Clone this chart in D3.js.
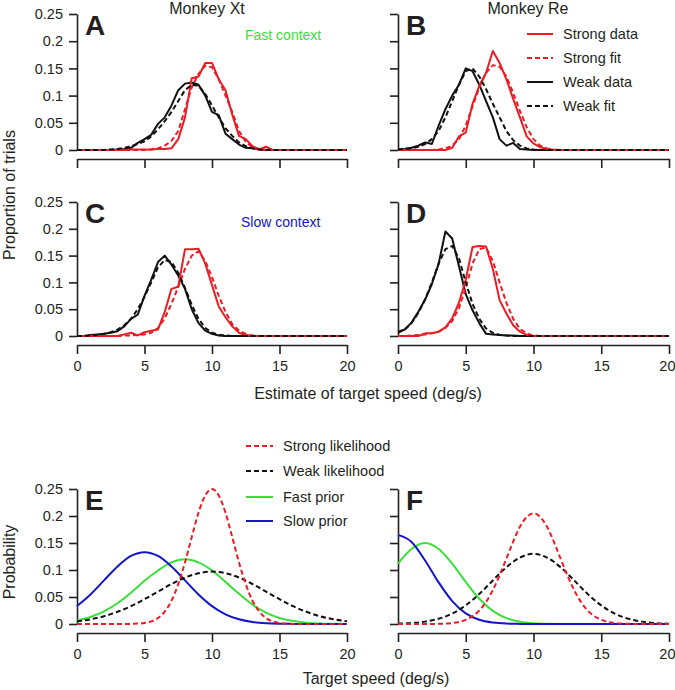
<!DOCTYPE html>
<html><head><meta charset="utf-8">
<script src="https://cdn.jsdelivr.net/npm/d3@7"></script>
<style>
body{margin:0;background:#fff}
svg{display:block}
text{font-family:"Liberation Sans",Arial,Helvetica,sans-serif;fill:#231f20}
</style>
</head><body>
<svg id="chart" width="675" height="690"></svg>
<script>
// ---------- DATA ----------
// estimate grid (deg/s), 0.5 deg/s bins
const halfSpeeds = [0,0.5,1,1.5,2,2.5,3,3.5,4,4.5,5,5.5,6,6.5,7,7.5,8,8.5,9,9.5,10,10.5,11,11.5,12,12.5,13,13.5,14,14.5,15,15.5,16,16.5,17,17.5,18,18.5,19,19.5,20];
const intSpeeds = [0,1,2,3,4,5,6,7,8,9,10,11,12,13,14,15,16,17,18,19,20];

// Panel A (Monkey Xt, fast context)
const strongDataA = [0,0,0,0,0,0,0,0, 0.001,0.001,0.001,0.001, 0.002,0.002, 0.003,0.02,0.06,0.132,0.135,0.16,0.16,0.13,0.11,0.065,0.026,0.02,0.007,0.001,0.006, 0,0,0,0,0,0,0,0,0,0,0,0];
const strongFitA  = [0,0,0,0,0,0,0,0,0,0,0, 0.001,0.003,0.008,0.017,0.035,0.075,0.115,0.14,0.155,0.152,0.13,0.1,0.07,0.035,0.015,0.005,0.002, 0,0,0,0,0,0,0,0,0,0,0,0,0];
const weakDataA   = [0,0,0,0,0,0, 0.001,0.002,0.004,0.013,0.02,0.028,0.048,0.06,0.082,0.11,0.122,0.124,0.12,0.1,0.07,0.064,0.03,0.02,0.01,0.004,0.003,0.001, 0,0,0,0,0,0,0,0,0,0,0,0,0];
const weakFitA    = [0,0,0,0,0, 0.001,0.002,0.004,0.007,0.011,0.016,0.025,0.038,0.053,0.07,0.09,0.11,0.12,0.118,0.103,0.082,0.06,0.04,0.026,0.014,0.007,0.003,0.001, 0,0,0,0,0,0,0,0,0,0,0,0,0];

// Panel B (Monkey Re, fast context)
const strongDataB = [0,0,0,0,0,0,0,0, 0.004,0.025,0.032,0.085,0.118,0.142,0.182,0.16,0.13,0.094,0.06,0.025,0.012,0.005,0.002, 0,0,0,0,0,0,0,0,0,0,0,0,0,0,0,0,0,0];
const strongFitB  = [0,0,0,0,0,0, 0.001,0.003,0.008,0.02,0.045,0.08,0.115,0.142,0.156,0.153,0.135,0.105,0.072,0.042,0.02,0.008,0.003,0.001, 0,0,0,0,0,0,0,0,0,0,0,0,0,0,0,0,0];
const weakDataB   = [0.001,0.002,0.004,0.008,0.014,0.011,0.045,0.075,0.1,0.12,0.15,0.145,0.12,0.09,0.06,0.02,0.008,0.013,0.002,0.001, 0,0,0,0,0,0,0,0,0,0,0,0,0,0,0,0,0,0,0,0,0];
const weakFitB    = [0.001,0.002,0.003,0.006,0.011,0.02,0.035,0.06,0.09,0.12,0.145,0.15,0.135,0.112,0.085,0.06,0.035,0.018,0.008,0.003,0.001, 0,0,0,0,0,0,0,0,0,0,0,0,0,0,0,0,0,0,0,0];

// Panel C (Monkey Xt, slow context)
const strongDataC = [0,0,0,0,0,0,0, 0.003,0.006,0.001,0.007,0.01,0.012,0.045,0.088,0.092,0.162,0.162,0.163,0.135,0.095,0.055,0.035,0.018,0.006,0.002, 0,0,0,0,0,0,0,0,0,0,0,0,0,0,0];
const strongFitC  = [0,0,0,0,0,0,0, 0.001,0.001,0.002,0.003,0.006,0.015,0.033,0.06,0.092,0.125,0.15,0.158,0.14,0.11,0.075,0.045,0.022,0.01,0.004,0.001, 0,0,0,0,0,0,0,0,0,0,0,0,0,0];
const weakDataC   = [0,0,0.002,0.003,0.004,0.006,0.009,0.018,0.032,0.04,0.075,0.105,0.138,0.15,0.133,0.113,0.088,0.05,0.024,0.01,0.004,0.001, 0,0,0,0,0,0,0,0,0,0,0,0,0,0,0,0,0,0,0];
const weakFitC    = [0,0,0.001,0.002,0.004,0.007,0.012,0.02,0.032,0.05,0.073,0.1,0.128,0.142,0.138,0.118,0.09,0.058,0.032,0.015,0.006,0.002,0.001, 0,0,0,0,0,0,0,0,0,0,0,0,0,0,0,0,0,0];

// Panel D (Monkey Re, slow context)
const strongDataD = [0,0,0,0, 0.005,0.005,0.008,0.016,0.033,0.062,0.105,0.166,0.168,0.167,0.125,0.067,0.042,0.02,0.008,0.002, 0,0,0,0,0,0,0,0,0,0,0,0,0,0,0,0,0,0,0,0,0];
const strongFitD  = [0,0, 0.001,0.002,0.003,0.005,0.008,0.015,0.028,0.052,0.09,0.135,0.162,0.165,0.14,0.1,0.062,0.032,0.013,0.005,0.001, 0,0,0,0,0,0,0,0,0,0,0,0,0,0,0,0,0,0,0,0];
const weakDataD   = [0.008,0.012,0.025,0.045,0.068,0.097,0.135,0.195,0.182,0.13,0.078,0.048,0.024,0.004,0.003,0.002,0.001,0.001, 0,0,0,0,0,0,0,0,0,0,0,0,0,0,0,0,0,0,0,0,0,0,0];
const weakFitD    = [0.006,0.012,0.024,0.043,0.068,0.1,0.135,0.162,0.168,0.145,0.1,0.06,0.032,0.014,0.006,0.002,0.001, 0,0,0,0,0,0,0,0,0,0,0,0,0,0,0,0,0,0,0,0,0,0,0,0];

// Panel E (Monkey Xt model components)
const strongLikE = [0,0,0,0,0,0,0,0, 0.0002,0.0007,0.0019,0.0048,0.011,0.023,0.043,0.074,0.114,0.161,0.206,0.238,0.25,0.238,0.206,0.161,0.114,0.074,0.043,0.023,0.011,0.0048,0.0019,0.0007,0.0002, 0,0,0,0,0,0,0,0];
const weakLikE   = [0.0049,0.0087,0.0144,0.0226,0.033,0.046,0.060,0.074,0.086,0.094,0.097,0.094,0.086,0.074,0.060,0.046,0.033,0.0226,0.0144,0.0087,0.0049];
const fastPriorE = [0.0065,0.013,0.0234,0.0385,0.058,0.080,0.099,0.114,0.12,0.114,0.099,0.078,0.056,0.036,0.021,0.011,0.0055,0.0025,0.001,0.0004,0.0002];
const slowPriorE = [0.0332,0.0547,0.0807,0.1065,0.126,0.133,0.126,0.1065,0.0807,0.0547,0.0332,0.018,0.0087,0.0038,0.0015,0.0005,0.0002,0,0,0,0];

// Panel F (Monkey Re model components)
const strongLikF = [0,0,0,0,0, 0.0001,0.0003,0.0008,0.0018,0.0038,0.0077,0.0143,0.025,0.0409,0.0628,0.09,0.121,0.1525,0.18,0.198,0.205,0.198,0.18,0.1525,0.121,0.09,0.0628,0.0409,0.025,0.0143,0.0077,0.0038,0.0018,0.0008,0.0003,0.0001, 0,0,0,0,0];
const weakLikF   = [0.0006,0.0018,0.0044,0.0097,0.0193,0.0345,0.0556,0.0807,0.105,0.123,0.13,0.123,0.105,0.0807,0.0556,0.0345,0.0193,0.0097,0.0044,0.0018,0.0006];
const fastPriorF = [0.112,0.139,0.15,0.139,0.112,0.0778,0.0467,0.0242,0.0108,0.0042,0.0014,0.0004,0.0001,0,0,0,0,0,0,0,0];
const slowPriorF = [0.165,0.152,0.1176,0.077,0.0425,0.0198,0.0078,0.0026,0.0007,0.0002,0,0,0,0,0,0,0,0,0,0,0];

const yTicks = [0,0.05,0.1,0.15,0.2,0.25];
const yTickLabels = ["0","0.05","0.1","0.15","0.2","0.25"];
const xTicks = [0,5,10,15,20];
const xTickLabels = ["0","5","10","15","20"];

const topLegendLabels = ["Strong data","Strong fit","Weak data","Weak fit"];
const bottomLegendLabels = ["Strong likelihood","Weak likelihood","Fast prior","Slow prior"];

// ---------- STYLE ----------
const RED = "#ec1c24", BLACK = "#111", GREEN = "#38e038", BLUE = "#1414c8";
const DASH = "5,3";
const FONT = '"Liberation Sans",Arial,Helvetica,sans-serif';

const svg = d3.select("#chart");
svg.append("rect").attr("width",675).attr("height",690).attr("fill","#fff");

const panels = [
  {letter:"A", x0:77, x1:347, y0:150, y1:14, axisY:159, yLabels:true, xLabels:false, curve:d3.curveLinear,
   series:[[halfSpeeds,weakDataA,BLACK,null],[halfSpeeds,strongDataA,RED,null],[halfSpeeds,strongFitA,RED,DASH],[halfSpeeds,weakFitA,BLACK,DASH]]},
  {letter:"B", x0:398, x1:669, y0:150, y1:14, axisY:159, yLabels:false, xLabels:false, curve:d3.curveLinear,
   series:[[halfSpeeds,weakDataB,BLACK,null],[halfSpeeds,strongDataB,RED,null],[halfSpeeds,strongFitB,RED,DASH],[halfSpeeds,weakFitB,BLACK,DASH]]},
  {letter:"C", x0:77, x1:347, y0:336, y1:202, axisY:345, yLabels:true, xLabels:true, curve:d3.curveLinear,
   series:[[halfSpeeds,weakDataC,BLACK,null],[halfSpeeds,strongDataC,RED,null],[halfSpeeds,strongFitC,RED,DASH],[halfSpeeds,weakFitC,BLACK,DASH]]},
  {letter:"D", x0:398, x1:669, y0:336, y1:202, axisY:345, yLabels:false, xLabels:true, curve:d3.curveLinear,
   series:[[halfSpeeds,weakDataD,BLACK,null],[halfSpeeds,strongDataD,RED,null],[halfSpeeds,strongFitD,RED,DASH],[halfSpeeds,weakFitD,BLACK,DASH]]},
  {letter:"E", x0:77, x1:347, y0:624, y1:489, axisY:633, yLabels:true, xLabels:true, curve:d3.curveMonotoneX,
   series:[[intSpeeds,fastPriorE,GREEN,null],[intSpeeds,slowPriorE,BLUE,null],[intSpeeds,weakLikE,BLACK,DASH],[halfSpeeds,strongLikE,RED,DASH]]},
  {letter:"F", x0:398, x1:669, y0:624, y1:489, axisY:633, yLabels:false, xLabels:true, curve:d3.curveMonotoneX,
   series:[[intSpeeds,fastPriorF,GREEN,null],[intSpeeds,slowPriorF,BLUE,null],[intSpeeds,weakLikF,BLACK,DASH],[halfSpeeds,strongLikF,RED,DASH]]}
];

panels.forEach(p => {
  const x = d3.scaleLinear().domain([0,20]).range([p.x0,p.x1]);
  const y = d3.scaleLinear().domain([0,0.25]).range([p.y0,p.y1]);
  const g = svg.append("g");

  // y axis
  const ya = d3.axisLeft(y).tickValues(yTicks).tickSize(8).tickSizeOuter(0).tickPadding(6)
    .tickFormat((d,i) => p.yLabels ? yTickLabels[i] : "");
  const yg = g.append("g").attr("transform",`translate(${p.x0},0)`).call(ya);
  yg.selectAll("path,line").attr("stroke","#231f20").attr("stroke-width",1.6);
  yg.selectAll("text").attr("font-family",FONT).attr("font-size",14.5).attr("fill","#231f20");

  // x axis (offset below)
  const xa = d3.axisBottom(x).tickValues(xTicks).tickSize(9).tickSizeOuter(0).tickPadding(7)
    .tickFormat((d,i) => p.xLabels ? xTickLabels[i] : "");
  const xg = g.append("g").attr("transform",`translate(0,${p.axisY})`).call(xa);
  xg.selectAll("path,line").attr("stroke","#231f20").attr("stroke-width",1.6);
  xg.selectAll("text").attr("font-family",FONT).attr("font-size",14.5).attr("fill","#231f20");
  // keep the last label of right-hand panels inside the picture
  if (p.x1 > 600) {
    xg.selectAll(".tick text").filter(d => d === 20)
      .attr("text-anchor","end").attr("dx", 6);
  }

  // curves
  const line = d3.line().x(d => x(d[0])).y(d => y(d[1])).curve(p.curve);
  p.series.forEach(([xs, vals, color, dash]) => {
    const pts = vals.map((v,i) => [xs[i], v]);
    g.append("path").datum(pts).attr("d", line)
      .attr("fill","none").attr("stroke",color).attr("stroke-width",2)
      .attr("stroke-linejoin","round")
      .attr("stroke-dasharray", dash);
  });

  // panel letter
  g.append("text").attr("x",p.x0+8).attr("y",p.y1+21).text(p.letter)
    .attr("font-size",28).attr("font-weight","bold").attr("fill","#231f20");
});

// titles
svg.append("text").attr("x",207).attr("y",14).attr("text-anchor","middle").attr("font-size",16).text("Monkey Xt");
svg.append("text").attr("x",528).attr("y",14).attr("text-anchor","middle").attr("font-size",16).text("Monkey Re");
svg.append("text").attr("x",245).attr("y",40).attr("font-size",14).style("fill",GREEN).text("Fast context");
svg.append("text").attr("x",241).attr("y",227).attr("font-size",14).style("fill",BLUE).text("Slow context");

// top legend (panel B)
const topLegendStyles = [[RED,null],[RED,DASH],[BLACK,null],[BLACK,DASH]];
const topRows = [34,58,82,106];
topLegendLabels.forEach((lab,i) => {
  svg.append("line").attr("x1",527).attr("x2",553).attr("y1",topRows[i]).attr("y2",topRows[i])
    .attr("stroke",topLegendStyles[i][0]).attr("stroke-width",2).attr("stroke-dasharray",topLegendStyles[i][1]);
  svg.append("text").attr("x",563).attr("y",topRows[i]+5).attr("font-size",14.5).text(lab);
});

// bottom legend (panel E)
const bottomLegendStyles = [[RED,DASH],[BLACK,DASH],[GREEN,null],[BLUE,null]];
const bottomRows = [446,471,497,521];
bottomLegendLabels.forEach((lab,i) => {
  svg.append("line").attr("x1",246).attr("x2",273).attr("y1",bottomRows[i]).attr("y2",bottomRows[i])
    .attr("stroke",bottomLegendStyles[i][0]).attr("stroke-width",2).attr("stroke-dasharray",bottomLegendStyles[i][1]);
  svg.append("text").attr("x",283).attr("y",bottomRows[i]+5).attr("font-size",14.5).text(lab);
});

// axis labels
svg.append("text").attr("transform","translate(15,195) rotate(-90)").attr("text-anchor","middle").attr("font-size",16).text("Proportion of trials");
svg.append("text").attr("transform","translate(15,562) rotate(-90)").attr("text-anchor","middle").attr("font-size",16).text("Probability");
svg.append("text").attr("x",368).attr("y",399).attr("text-anchor","middle").attr("font-size",16).text("Estimate of target speed (deg/s)");
svg.append("text").attr("x",376).attr("y",684).attr("text-anchor","middle").attr("font-size",16).text("Target speed (deg/s)");
</script>
</body></html>
